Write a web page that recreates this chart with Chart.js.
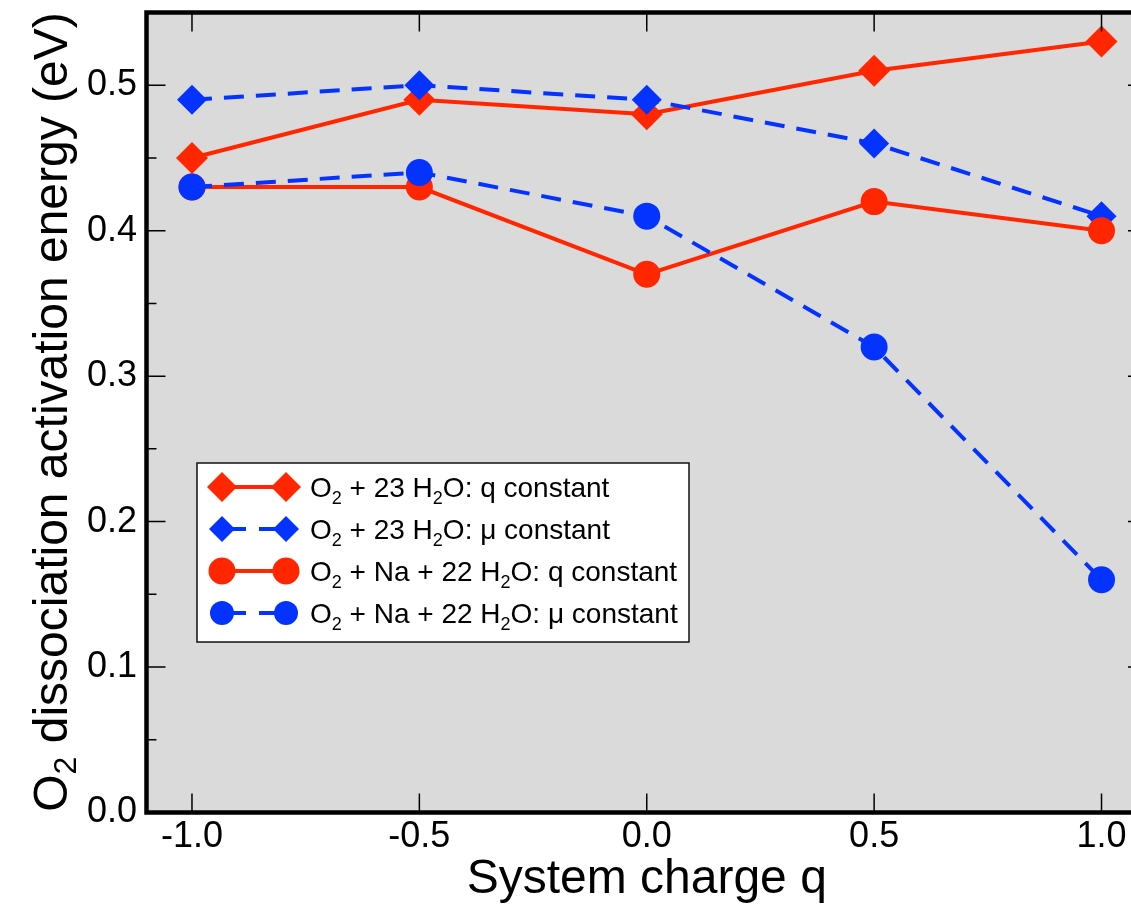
<!DOCTYPE html>
<html>
<head>
<meta charset="utf-8">
<script src="https://cdn.jsdelivr.net/npm/chart.js@4/dist/chart.umd.min.js"></script>
<style>
html, body { margin: 0; padding: 0; overflow: hidden; background: #fff; }
canvas { display: block; }
</style>
</head>
<body>
<canvas id="chart" width="1160" height="905"></canvas>
<script>
// values
const charges = [-1.0, -0.5, 0.0, 0.5, 1.0];
const water23Q = [0.45, 0.49, 0.48, 0.51, 0.53];
const water23Mu = [0.49, 0.50, 0.49, 0.46, 0.41];
const sodiumQ = [0.43, 0.43, 0.37, 0.42, 0.40];
const sodiumMu = [0.43, 0.44, 0.41, 0.32, 0.16];

const xTicks = [-1.0, -0.5, 0.0, 0.5, 1.0];
const yTicks = [0.0, 0.1, 0.2, 0.3, 0.4, 0.5];
const yMinorTicks = [0.05, 0.15, 0.25, 0.35, 0.45];

// {..} = subscript
const seriesLabels = [
  "O{2} + 23 H{2}O: q constant",
  "O{2} + 23 H{2}O: \u03bc constant",
  "O{2} + Na + 22 H{2}O: q constant",
  "O{2} + Na + 22 H{2}O: \u03bc constant"
];
const xTitle = "System charge q";
const yTitle = "O{2} dissociation activation energy (eV)";

const RED = "#ff2600";
const BLUE = "#0433ff";
const FONT = "'Liberation Sans', Arial, Helvetica, sans-serif";

function series(label, values, color, dash, style, radius, order) {
  return {
    label: label,
    data: values.map((v, i) => ({ x: charges[i], y: v })),
    borderColor: color,
    backgroundColor: color,
    borderWidth: 4,
    borderDash: dash,
    pointStyle: style,
    pointRadius: radius,
    pointHoverRadius: radius,
    pointBorderWidth: 0,
    pointBackgroundColor: color,
    tension: 0,
    order: order
  };
}

const datasets = [
  series(seriesLabels[0], water23Q, RED, [], "rectRot", 16, 4),
  series(seriesLabels[1], water23Mu, BLUE, [20, 12], "rectRot", 15, 3),
  series(seriesLabels[2], sodiumQ, RED, [], "circle", 13.5, 2),
  series(seriesLabels[3], sodiumMu, BLUE, [20, 12], "circle", 13.5, 1)
];

// text with {sub} parts
function drawRich(ctx, text, x, y, size, subSize, subDrop) {
  const parts = text.split(/\{(.*?)\}/);
  let cx = x;
  parts.forEach((p, i) => {
    const sub = i % 2 === 1;
    ctx.font = (sub ? subSize : size) + "px " + FONT;
    ctx.fillText(p, cx, sub ? y + subDrop : y);
    cx += ctx.measureText(p).width;
  });
}
function richWidth(ctx, text, size, subSize) {
  const parts = text.split(/\{(.*?)\}/);
  let w = 0;
  parts.forEach((p, i) => {
    ctx.font = (i % 2 === 1 ? subSize : size) + "px " + FONT;
    w += ctx.measureText(p).width;
  });
  return w;
}

function drawMarker(ctx, style, x, y, r, color) {
  ctx.fillStyle = color;
  ctx.beginPath();
  if (style === "circle") {
    ctx.arc(x, y, r, 0, Math.PI * 2);
  } else {
    ctx.moveTo(x, y - r);
    ctx.lineTo(x + r, y);
    ctx.lineTo(x, y + r);
    ctx.lineTo(x - r, y);
    ctx.closePath();
  }
  ctx.fill();
}

const framePlugin = {
  id: "frame",
  beforeDatasetsDraw(chart) {
    const a = chart.chartArea;
    const ctx = chart.ctx;
    ctx.save();
    ctx.fillStyle = "#dadada";
    ctx.fillRect(a.left, a.top, a.right - a.left, a.bottom - a.top);
    ctx.restore();
  },
  afterDatasetsDraw(chart) {
    const a = chart.chartArea;
    const ctx = chart.ctx;
    const xs = chart.scales.x, ys = chart.scales.y;
    ctx.save();

    // inward ticks
    ctx.strokeStyle = "#000";
    ctx.lineWidth = 1.5;
    ctx.beginPath();
    xTicks.forEach(v => {
      const px = xs.getPixelForValue(v);
      ctx.moveTo(px, a.top); ctx.lineTo(px, a.top + 19);
      ctx.moveTo(px, a.bottom); ctx.lineTo(px, a.bottom - 19);
    });
    yTicks.forEach(v => {
      const py = ys.getPixelForValue(v);
      ctx.moveTo(a.left, py); ctx.lineTo(a.left + 19, py);
      ctx.moveTo(a.right, py); ctx.lineTo(a.right - 19, py);
    });
    yMinorTicks.forEach(v => {
      const py = ys.getPixelForValue(v);
      ctx.moveTo(a.left, py); ctx.lineTo(a.left + 10, py);
      ctx.moveTo(a.right, py); ctx.lineTo(a.right - 10, py);
    });
    ctx.stroke();

    // frame
    ctx.lineWidth = 4.5;
    ctx.strokeRect(a.left, a.top, a.right - a.left, a.bottom - a.top);

    // legend
    const box = { x: 197, y: 463, w: 492, h: 179 };
    ctx.fillStyle = "#fff";
    ctx.fillRect(box.x, box.y, box.w, box.h);
    ctx.lineWidth = 1.5;
    ctx.strokeStyle = "#111";
    ctx.strokeRect(box.x, box.y, box.w, box.h);
    const legendSizes = [15, 13, 13.5, 12];
    datasets.forEach((ds, i) => {
      const base = 497 + i * 42;
      const my = base - 10;
      ctx.strokeStyle = ds.borderColor;
      ctx.lineWidth = 4;
      ctx.setLineDash(ds.borderDash.length ? [24, 13] : []);
      ctx.beginPath();
      ctx.moveTo(222, my); ctx.lineTo(286, my);
      ctx.stroke();
      ctx.setLineDash([]);
      drawMarker(ctx, ds.pointStyle, 222, my, legendSizes[i], ds.borderColor);
      drawMarker(ctx, ds.pointStyle, 286, my, legendSizes[i], ds.borderColor);
      ctx.fillStyle = "#000";
      ctx.textBaseline = "alphabetic";
      ctx.textAlign = "left";
      drawRich(ctx, ds.label, 310, base, 28, 18, 7);
    });

    // axis titles
    ctx.fillStyle = "#000";
    ctx.textAlign = "left";
    ctx.textBaseline = "alphabetic";
    const xw = richWidth(ctx, xTitle, 48, 32);
    drawRich(ctx, xTitle, (a.left + a.right) / 2 - xw / 2, 893, 48, 32, 9);

    ctx.translate(67, 412);
    ctx.rotate(-Math.PI / 2);
    const yw = richWidth(ctx, yTitle, 48, 32);
    drawRich(ctx, yTitle, -yw / 2, 0, 48, 32, 9);
    ctx.restore();
  }
};

new Chart(document.getElementById("chart"), {
  type: "line",
  data: { datasets: datasets },
  options: {
    responsive: false,
    animation: false,
    events: [],
    layout: {
      autoPadding: false,
      padding: { top: 12.5, right: 13, left: 0, bottom: 0 }
    },
    plugins: {
      legend: { display: false },
      tooltip: { enabled: false }
    },
    scales: {
      x: {
        type: "linear",
        min: -1.1,
        max: 1.1,
        afterBuildTicks: s => { s.ticks = xTicks.map(v => ({ value: v })); },
        afterFit: s => {
          s.height = 92.5;
          s.paddingLeft = 0;
          s.paddingRight = 0;
        },
        grid: { display: false, drawTicks: false },
        border: { display: false },
        ticks: {
          autoSkip: false,
          maxRotation: 0,
          padding: 3,
          color: "#000",
          font: { family: FONT, size: 36 },
          callback: v => v.toFixed(1)
        }
      },
      y: {
        type: "linear",
        min: 0,
        max: 0.55,
        afterBuildTicks: s => { s.ticks = yTicks.map(v => ({ value: v })); },
        afterFit: s => {
          s.width = 146.5;
          s.paddingTop = 0;
          s.paddingBottom = 0;
        },
        grid: { display: false, drawTicks: false },
        border: { display: false },
        ticks: {
          autoSkip: false,
          padding: 9.5,
          color: "#000",
          font: { family: FONT, size: 36 },
          callback: v => v.toFixed(1)
        }
      }
    }
  },
  plugins: [framePlugin]
});
</script>
</body>
</html>
